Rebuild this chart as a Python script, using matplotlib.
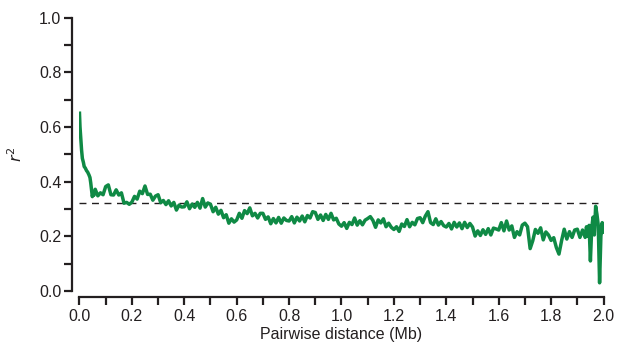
import numpy as np
from matplotlib import pyplot as plt

plt.rcParams['font.family'] = ['Liberation Sans', 'DejaVu Sans']

# 起始段（衰减很快，点取得密一些）
head_dist = [0.000, 0.002, 0.004, 0.006, 0.008, 0.011, 0.015, 0.018, 0.022,
             0.027, 0.031, 0.036, 0.040, 0.043, 0.046, 0.049, 0.052, 0.055]
head_r2 = [0.650, 0.600, 0.570, 0.540, 0.515, 0.485, 0.470, 0.455, 0.450,
           0.440, 0.435, 0.425, 0.415, 0.395, 0.370, 0.345, 0.360, 0.350]

# 主体段：0.06 ~ 1.93 Mb，步长 0.01
main_start = 0.06
main_r2 = [
    0.372, 0.348, 0.359, 0.352,
    0.382, 0.388, 0.352, 0.351, 0.370, 0.351, 0.359, 0.321, 0.324, 0.317,
    0.325, 0.346, 0.336, 0.365, 0.356, 0.384, 0.353, 0.354, 0.332, 0.347,
    0.352, 0.323, 0.331, 0.316, 0.330, 0.311, 0.324, 0.296, 0.314, 0.307,
    0.308, 0.326, 0.301, 0.318, 0.306, 0.324, 0.303, 0.338, 0.307, 0.322,
    0.317, 0.290, 0.306, 0.281, 0.295, 0.268, 0.279, 0.248, 0.264, 0.252,
    0.260, 0.284, 0.266, 0.294, 0.283, 0.304, 0.275, 0.284, 0.267, 0.284,
    0.284, 0.262, 0.271, 0.246, 0.265, 0.249, 0.269, 0.248, 0.267, 0.258,
    0.256, 0.272, 0.249, 0.270, 0.256, 0.274, 0.253, 0.276, 0.267, 0.290,
    0.287, 0.262, 0.278, 0.258, 0.280, 0.262, 0.284, 0.260, 0.266, 0.245,
    0.237, 0.250, 0.229, 0.251, 0.243, 0.267, 0.241, 0.257, 0.242, 0.259,
    0.265, 0.272, 0.258, 0.233, 0.260, 0.249, 0.264, 0.235, 0.248, 0.233,
    0.225, 0.235, 0.218, 0.245, 0.236, 0.261, 0.235, 0.251, 0.242, 0.265,
    0.268, 0.250, 0.274, 0.290, 0.250, 0.243, 0.264, 0.241, 0.254, 0.239,
    0.234, 0.247, 0.227, 0.251, 0.234, 0.249, 0.228, 0.251, 0.232, 0.247,
    0.234, 0.201, 0.220, 0.203, 0.224, 0.207, 0.228, 0.205, 0.230, 0.227,
    0.223, 0.250, 0.220, 0.256, 0.223, 0.238, 0.196, 0.217, 0.205, 0.241,
    0.248, 0.235, 0.155, 0.184, 0.225, 0.211, 0.231, 0.187, 0.216, 0.205,
    0.185, 0.195, 0.159, 0.135, 0.184, 0.226, 0.190, 0.217, 0.196, 0.223,
    0.226, 0.196, 0.223, 0.196,
]

# 末段波动大
tail_dist = [1.935, 1.940, 1.945, 1.950, 1.955, 1.960, 1.965, 1.970,
             1.975, 1.980, 1.985, 1.990, 1.995, 2.000]
tail_r2 = [0.235, 0.200, 0.240, 0.110, 0.230, 0.270, 0.205, 0.310,
           0.280, 0.240, 0.030, 0.200, 0.250, 0.215]

baseline_r2 = 0.32
baseline_end = 1.98

main_dist = main_start + 0.01 * np.arange(len(main_r2))
dist = np.concatenate([head_dist, main_dist, tail_dist])
r2 = np.concatenate([head_r2, main_r2, tail_r2])

fig = plt.figure(figsize=(6.2, 3.51), dpi=100)
ax = fig.add_axes([0.1282, 0.1709, 0.8452, 0.7792])

ax.hlines(baseline_r2, 0, baseline_end, colors='#231f20',
          linestyles=(0, (5, 4)), lw=1.0, zorder=1)
ax.plot(dist, r2, color='#0f8a45', lw=2.5, zorder=2)

ax.set_xlim(0, 2.0)
ax.set_ylim(0, 1.0)
ax.set_xticks(np.arange(0, 2.01, 0.2))
ax.set_xticks(np.arange(0, 2.01, 0.1), minor=True)
ax.set_yticks(np.arange(0, 1.01, 0.2))
ax.set_yticks(np.arange(0, 1.01, 0.1), minor=True)
ax.set_xticklabels([f"{v:.1f}" for v in np.arange(0, 2.01, 0.2)])
ax.set_yticklabels([f"{v:.1f}" for v in np.arange(0, 1.01, 0.2)])

for s in ['top', 'right']:
    ax.spines[s].set_visible(False)
ax.spines['left'].set_position(('outward', 5.5))
ax.spines['bottom'].set_position(('outward', 4.5))
for s in ['left', 'bottom']:
    ax.spines[s].set_linewidth(1.6)
    ax.spines[s].set_color('#231f20')

ax.tick_params(which='both', direction='out', length=5.5, width=1.6,
               color='#231f20', labelsize=11.5, labelcolor='#231f20')
ax.tick_params(axis='y', which='both', pad=2)
ax.tick_params(axis='x', which='both', pad=3)

ax.set_xlabel("Pairwise distance (Mb)", fontsize=11.5, color='#231f20', labelpad=2)
ax.set_ylabel("$r^2$", fontsize=11.5, color='#231f20', labelpad=10)

fig.savefig("out.png", dpi=100)
